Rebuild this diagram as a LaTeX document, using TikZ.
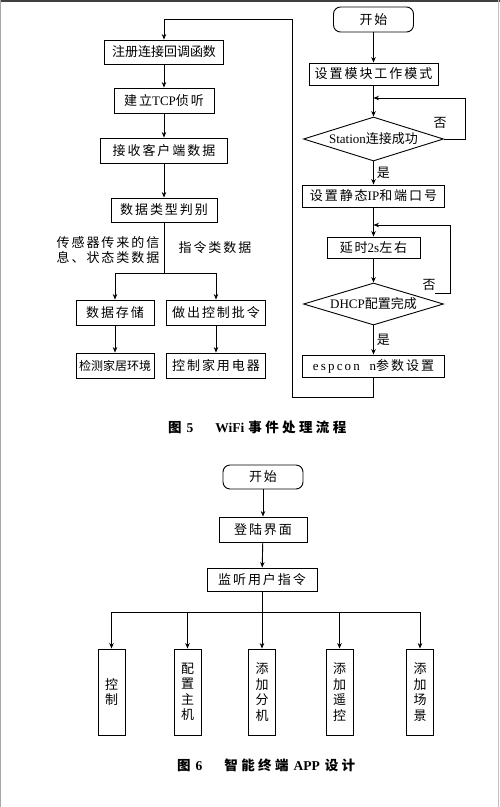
\documentclass[tikz,border=0pt]{standalone}
\usepackage{fontspec}
\setmainfont{Liberation Serif}
\newfontfamily\cjk{Noto Sans CJK SC}
\newfontfamily\cjkw{Noto Sans CJK SC}[LetterSpace=15]
\newfontfamily\cjkc{Noto Sans CJK SC}[LetterSpace=25]
\usetikzlibrary{arrows.meta,shapes.geometric}
\begin{document}
\begin{tikzpicture}[x=1pt,y=-1pt,
  ln/.style={line width=0.9pt},
  arr/.style={ln,-{Stealth[length=5.5pt,width=4.5pt]}},
  box/.style={draw,line width=0.9pt,inner sep=0pt,minimum height=24pt,font=\fontsize{13}{15}\selectfont\cjkw},
  startbox/.style={box,rounded corners=7pt},
  dia/.style={draw,diamond,line width=0.9pt,inner sep=0pt,aspect=3.2,minimum width=140pt,minimum height=44pt,font=\fontsize{13}{15}\selectfont\cjk},
  tall/.style={draw,line width=0.9pt,inner sep=0pt,minimum width=27pt,minimum height=86pt,align=center,font=\fontsize{13}{15.5}\selectfont\cjk},
  lbl/.style={inner sep=0pt,font=\fontsize{13}{14.5}\selectfont\cjkw},
  capt/.style={inner sep=0pt,anchor=west,font=\fontsize{13.5}{15}\selectfont\bfseries}
]
\useasboundingbox (0,0) rectangle (500,807);
% scan frame edges
\draw[black!75,line width=1.6pt] (0,0.8) -- (500,0.8);
\draw[black!35,line width=1.2pt] (0.6,0) -- (0.6,807);
\draw[black!25,line width=1pt] (498.6,0) -- (498.6,807);

% ---------- Figure 5: left column ----------
\node[box,minimum width=119pt,font=\fontsize{13}{15}\selectfont\cjk] (n1) at (164,52) {注册连接回调函数};
\node[box,minimum width=100pt,minimum height=25pt] (n2) at (164,100.5) {建立{\rmfamily TCP}侦听};
\node[box,minimum width=127pt,minimum height=25pt] (n3) at (164,150.5) {接收客户端数据};
\node[box,minimum width=106pt] (n4) at (164,210) {数据类型判别};
\node[box,minimum width=78pt,minimum height=25pt] (n5) at (115,312.5) {数据存储};
\node[box,minimum width=99pt,minimum height=25pt] (n6) at (216,312.5) {做出控制批令};
\node[box,minimum width=78pt,minimum height=25pt,font=\fontsize{12}{14}\selectfont\cjk] (n7) at (115,365.5) {检测家居环境};
\node[box,minimum width=99pt,minimum height=25pt] (n8) at (216,365.5) {控制家用电器};
\node[lbl,align=left] (l1) at (108,250) {传感器传来的信\\息、状态类数据};
\node[lbl] (l2) at (215,248) {指令类数据};

\draw[arr] (n1) -- (n2);
\draw[arr] (n2) -- (n3);
\draw[arr] (n3) -- (n4);
\coordinate (br) at (164,273);
\draw[ln] (n4.south) -- (br);
\draw[ln] (n5.north |- br) -- (n6.north |- br);
\draw[arr] (n5.north |- br) -- (n5.north);
\draw[arr] (n6.north |- br) -- (n6.north);
\draw[arr] (n5) -- (n7);
\draw[arr] (n6) -- (n8);

% ---------- Figure 5: right column ----------
\node[startbox,minimum width=80pt,minimum height=25pt] (s0) at (373.5,19.5) {开始};
\node[box,minimum width=129pt,minimum height=22pt] (s1) at (373.5,74) {设置模块工作模式};
\node[dia] (d1) at (373.5,139) {{\rmfamily Station}连接成功};
\node[box,minimum width=142pt,minimum height=22pt] (s2) at (373.5,196) {设置静态{\rmfamily IP}和端口号};
\node[box,minimum width=93pt,minimum height=21pt] (s3) at (373.5,247.5) {延时{\rmfamily 2s}左右};
\node[dia,minimum height=42pt] (d2) at (373.5,304) {{\rmfamily DHCP}配置完成};
\node[box,minimum width=142pt,minimum height=22pt] (s4) at (373.5,366) {{\rmfamily e\,s\,p\,c\,o\,n\ \ \ n}参数设置};

\draw[arr] (s0) -- (s1);
\draw[arr] (s1) -- (d1);
\draw[arr] (d1) -- node[right,inner sep=3pt,font=\fontsize{13}{15}\selectfont\cjk]{是} (s2);
\draw[arr] (s2) -- (s3);
\draw[arr] (s3) -- (d2);
\draw[arr] (d2) -- node[right,inner sep=3pt,font=\fontsize{13}{15}\selectfont\cjk]{是} (s4);
% loop 1
\coordinate (k1) at (373.5,98);
\draw[arr] (d1.east) -- ++(21,0) |- (k1);
\node[inner sep=0pt,font=\fontsize{13}{15}\selectfont\cjk] (no1) at (440,123) {否};
% loop 2
\coordinate (k2) at (373.5,225);
\coordinate (k3) at (435,293);
\draw[arr] (k3) -- (450,293) |- (k2);
\node[inner sep=0pt,font=\fontsize{13}{15}\selectfont\cjk] (no2) at (429,285) {否};
% return loop
\draw[arr] (s4.south) -- (373.5,397) -| (292,19) -| (n1.north);

% caption 5
\node[capt] (cap5) at (168,427) {\cjk 图\hspace{5pt}\rmfamily 5\hspace{22pt}WiFi\hspace{4pt}\cjkc 事件处理流程};

% ---------- Figure 6 ----------
\node[startbox,minimum width=80pt,minimum height=24pt] (b0) at (263,477) {开始};
\node[box,minimum width=88pt,minimum height=25pt] (b1) at (263,529.5) {登陆界面};
\node[box,minimum width=110pt,minimum height=23pt] (b2) at (262,579.5) {监听用户指令};
\node[tall] (t1) at (111.5,692) {控\\制};
\node[tall] (t2) at (187.5,692) {配\\置\\主\\机};
\node[tall] (t3) at (262,692) {添\\加\\分\\机};
\node[tall] (t4) at (339.5,692) {添\\加\\遥\\控};
\node[tall] (t5) at (420,692) {添\\加\\场\\景};

\draw[arr] (b0) -- (b1);
\draw[arr] (b1) -- (b2);
\coordinate (bus) at (262,612);
\draw[ln] (b2.south) -- (bus);
\draw[ln] (t1.north |- bus) -- (t5.north |- bus);
\foreach \i in {1,...,5} \draw[arr] (t\i.north |- bus) -- (t\i.north);

% caption 6
\node[capt] (cap6) at (177,765) {\cjk 图\hspace{5pt}\rmfamily 6\hspace{22pt}{\cjkc 智能终端}\hspace{5pt}{\rmfamily APP}\hspace{5pt}{\cjkc 设计}};
\end{tikzpicture}
\end{document}
